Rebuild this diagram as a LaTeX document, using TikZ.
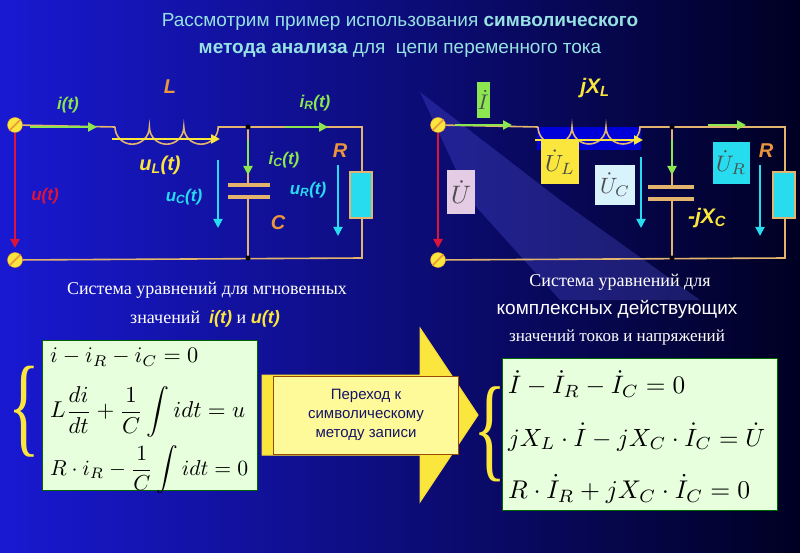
\documentclass[tikz,border=0pt]{standalone}
\usepackage{amsmath}
\usepackage{graphicx}
\usepackage{fontspec}
\setmainfont{Liberation Serif}
\setsansfont{Liberation Sans}
\usetikzlibrary{arrows.meta}
\definecolor{wire}{RGB}{226,180,110}
\definecolor{ttl}{RGB}{150,225,225}
\definecolor{grn}{RGB}{140,230,80}
\definecolor{cyn}{RGB}{40,220,240}
\definecolor{ylw}{RGB}{250,230,60}
\definecolor{org}{RGB}{235,150,60}
\definecolor{rd}{RGB}{220,20,60}
\definecolor{eqbg}{RGB}{232,255,222}
\newcommand{\rsz}[2]{\resizebox{#1pt}{!}{#2}}
\tikzset{
 w/.style={wire,line width=1.6pt},
 arr/.style={line width=2.4pt,-{Triangle[length=9pt,width=9pt]}},
 lab/.style={font=\sffamily\bfseries\itshape\fontsize{17}{17}\selectfont},
 term/.style={circle,fill=ylw,draw=org,minimum size=15pt,inner sep=0pt},
 vbox/.style={inner sep=0pt,text=black!70},
 vtxt/.style={text=black!70,inner sep=0pt},
 eq/.style={anchor=west,inner sep=0pt},
}
\begin{document}
\begin{tikzpicture}[x=1pt,y=-1pt]
\useasboundingbox (0,0) rectangle (800,553);
\shade[left color={rgb,255:red,25;green,25;blue,210}, right color={rgb,255:red,0;green,0;blue,35}] (0,0) rectangle (800,553);
\fill[blue!60!white,opacity=0.25] (420,92) -- (560,200) -- (700,300) -- (560,300) -- (470,200) -- cycle;
% title
\node[text=ttl,font=\sffamily\fontsize{19}{19}\selectfont] (t1) at (400,22) {Рассмотрим пример использования \textbf{символического}};
\node[text=ttl,font=\sffamily\fontsize{19}{19}\selectfont] (t2) at (400,50) {\textbf{метода анализа} для\ \ цепи переменного тока};
% ===== left circuit
\node[term] (ta) at (15,125) {};
\node[term] (tb) at (15,260) {};
\draw[org,line width=1.5pt] (ta.south west) -- (ta.north east) (tb.south west) -- (tb.north east);
\coordinate (l1) at (115,127);
\coordinate (j1) at (248,127); \coordinate (j2) at (248,258);
\coordinate (r1) at (362,127); \coordinate (r2) at (362,258);
\draw[w] (ta) -- (l1);
\draw[w] (l1) arc (180:0:17.2) arc (180:0:17.2) arc (180:0:17.2) -- (r1) -- (r2) -- (tb);
\draw[w] (j1) -- (248,185) (248,197) -- (j2);
\draw[wire,line width=3.5pt] (228,185) -- (270,185) (228,197) -- (270,197);
\node[draw=wire,line width=2pt,fill=cyn,minimum width=22pt,minimum height=46pt,inner sep=0pt] (rl) at (361,195) {};
\fill[black] (j1) circle (2.5) (j2) circle (2.5);
\draw[arr,grn] (30,127) -- (97,127);
\draw[arr,grn] (285,127) -- (328,127);
\draw[arr,grn] (248,140) -- (248,175);
\draw[arr,ylw] (112,139) -- (220,139);
\draw[arr,cyn,line width=1.8pt] (218,160) -- (218,228);
\draw[arr,cyn,line width=1.8pt] (338,165) -- (338,236);
\draw[arr,rd] (15,133) -- (15,248);
\node[lab,text=grn] (li) at (68,105) {i(t)};
\node[lab,text=grn] (lir) at (315,103) {i\textsubscript{R}(t)};
\node[lab,text=grn] (lic) at (284,160) {i\textsubscript{C}(t)};
\node[lab,text=ylw,font=\sffamily\bfseries\itshape\fontsize{20}{20}\selectfont] (lul) at (160,165) {u\textsubscript{L}(t)};
\node[lab,text=cyn] (luc) at (184,197) {u\textsubscript{C}(t)};
\node[lab,text=cyn] (lur) at (308,190) {u\textsubscript{R}(t)};
\node[lab,text=rd] (lu) at (45,196) {u(t)};
\node[lab,text=org,font=\sffamily\bfseries\itshape\fontsize{20}{20}\selectfont] (lL) at (170,87) {L};
\node[lab,text=org,font=\sffamily\bfseries\itshape\fontsize{20}{20}\selectfont] (lR) at (340,151) {R};
\node[lab,text=org,font=\sffamily\bfseries\itshape\fontsize{20}{20}\selectfont] (lC) at (278,223) {C};
% ===== right circuit
\node[term] (tc) at (438,125) {};
\node[term] (td) at (438,260) {};
\draw[org,line width=1.5pt] (tc.south west) -- (tc.north east) (td.south west) -- (td.north east);
\coordinate (m1) at (538,127);
\coordinate (k1) at (672,127); \coordinate (k2) at (672,258);
\coordinate (s1) at (785,127); \coordinate (s2) at (785,258);
\fill[blue!85!black] (537,127) rectangle (641,150);
\draw[w] (tc) -- (m1);
\draw[w] (m1) arc (180:0:17) arc (180:0:17) arc (180:0:17) -- (s1) -- (s2) -- (td);
\draw[w] (k1) -- (672,187) (672,199) -- (k2);
\draw[wire,line width=3.5pt] (648,187) -- (694,187) (648,199) -- (694,199);
\node[draw=wire,line width=2pt,fill=cyn,minimum width=22pt,minimum height=46pt,inner sep=0pt] (rr) at (784,195) {};
\fill[black] (k1) circle (2.5) (k2) circle (2.5);
\draw[arr,grn] (455,125) -- (512,125);
\draw[arr,grn] (708,125) -- (746,125);
\draw[arr,grn] (672,140) -- (672,175);
\draw[arr,ylw] (535,140) -- (643,140);
\draw[arr,cyn,line width=1.8pt] (641,157) -- (641,228);
\draw[arr,cyn,line width=1.8pt] (760,165) -- (760,236);
\draw[arr,rd] (438,133) -- (438,248);
\node[vbox,fill=grn,minimum width=13pt,minimum height=36pt] (bI) at (483,100) {};
\node[vtxt] (tI) at (bI) {\rsz{11}{$\dot I$}};
\node[vbox,fill=violet!20,minimum width=28pt,minimum height=44pt] (bU) at (461,192) {};
\node[vtxt] (tU) at (bU) {\rsz{20}{$\dot U$}};
\node[vbox,fill=ylw,minimum width=38pt,minimum height=45pt] (bUL) at (560,162) {};
\node[vtxt] (tUL) at (bUL) {\rsz{30}{$\dot U_L$}};
\node[vbox,fill=cyan!15,minimum width=40pt,minimum height=40pt] (bUC) at (615,185) {};
\node[vtxt] (tUC) at (bUC) {\rsz{30}{$\dot U_C$}};
\node[vbox,fill=cyn,minimum width=37pt,minimum height=42pt] (bUR) at (731,163) {};
\node[vtxt] (tUR) at (bUR) {\rsz{30}{$\dot U_R$}};
\node[lab,text=ylw,font=\sffamily\bfseries\itshape\fontsize{21}{21}\selectfont] (rL) at (595,88) {jX\textsubscript{L}};
\node[lab,text=org,font=\sffamily\bfseries\itshape\fontsize{20}{20}\selectfont] (rR) at (766,151) {R};
\node[lab,text=ylw,font=\sffamily\bfseries\itshape\fontsize{21}{21}\selectfont] (rC) at (707,218) {-jX\textsubscript{C}};
% ===== captions
\node[text=white,font=\fontsize{18}{18}\selectfont] (c1) at (207,290) {Система уравнений для мгновенных};
\node[text=white,font=\fontsize{18}{18}\selectfont] (c2) at (205,319) {значений\ \ \textcolor{ylw}{\sffamily\bfseries\itshape i(t)} и \textcolor{ylw}{\sffamily\bfseries\itshape u(t)}};
\node[text=white,font=\fontsize{18}{18}\selectfont] (c3) at (620,282) {Система уравнений для};
\node[text=white,font=\sffamily\fontsize{19}{19}\selectfont] (c4) at (617,309) {комплексных действующих};
\node[text=white,font=\fontsize{17}{17}\selectfont] (c5) at (617,337) {значений токов и напряжений};
% ===== left equations
\node[fill=eqbg,draw=green!40!black,line width=1pt,minimum width=215pt,minimum height=150pt,inner sep=0pt] (eql) at (150,415) {};
\node[eq] (e1) at (50,357) {\rsz{148}{$i-i_R-i_C=0$}};
\node[eq] (e2) at (50,412) {\rsz{195}{$L\dfrac{di}{dt}+\dfrac{1}{C}\displaystyle\int idt=u$}};
\node[eq] (e3) at (50,470) {\rsz{198}{$R\cdot i_R-\dfrac{1}{C}\displaystyle\int idt=0$}};
\node[text=ylw,font=\fontsize{110}{110}\selectfont,xscale=0.6] (bl) at (24,412) {\{};
% ===== arrow
\draw[ylw!90!orange,fill=ylw,line width=1pt] (262,375) -- (420,375) -- (420,328) -- (478,415) -- (420,502) -- (420,455) -- (262,455) -- cycle;
\node[draw=orange!60!black,fill=yellow!40,minimum width=185pt,minimum height=78pt,align=center,text={rgb,255:red,20;green,20;blue,100},font=\sffamily\fontsize{15}{19}\selectfont] (pb) at (366,415) {Переход к\\символическому\\методу записи};
% ===== right equations
\node[fill=eqbg,draw=green!40!black,line width=1pt,minimum width=275pt,minimum height=152pt,inner sep=0pt] (eqr) at (640,434) {};
\node[eq] (f1) at (508,384) {\rsz{177}{$\dot I-\dot I_R-\dot I_C=0$}};
\node[eq] (f2) at (508,437) {\rsz{257}{$jX_L\cdot\dot I-jX_C\cdot\dot I_C=\dot U$}};
\node[eq] (f3) at (508,489) {\rsz{242}{$R\cdot\dot I_R+jX_C\cdot\dot I_C=0$}};
\node[text=ylw,font=\fontsize{115}{115}\selectfont,xscale=0.6] (br) at (490,434) {\{};
\end{tikzpicture}
\end{document}
